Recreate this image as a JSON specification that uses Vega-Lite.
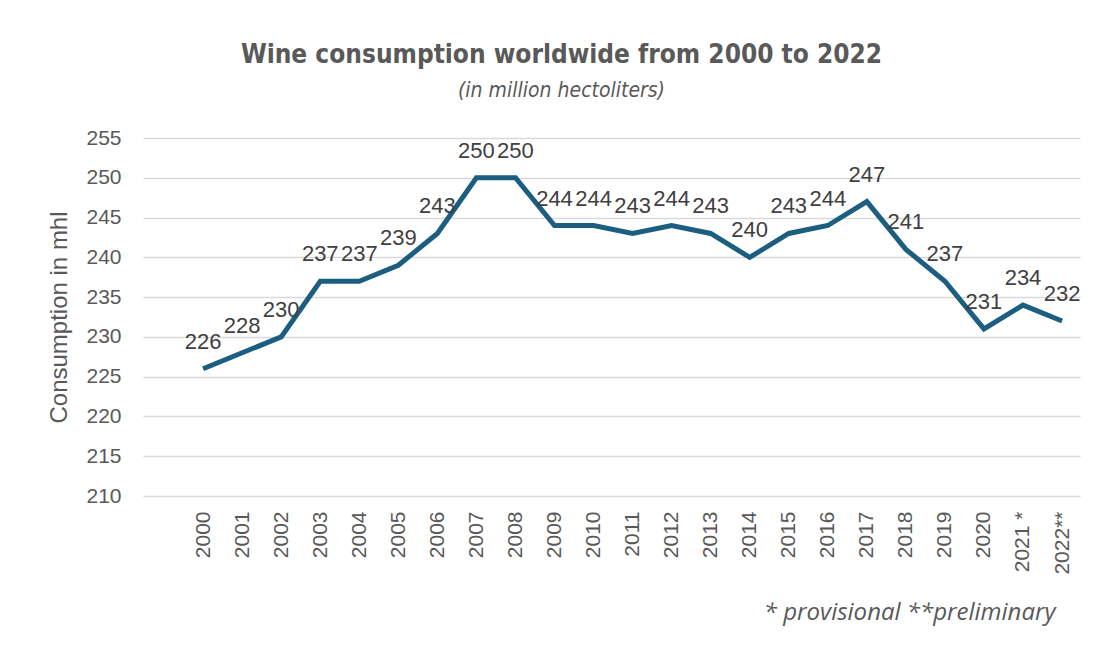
{
  "$schema": "https://vega.github.io/schema/vega-lite/v6.json",
  "width": 937,
  "height": 358,
  "autosize": {"type": "none"},
  "padding": {"left": 143, "top": 138, "right": 22, "bottom": 158},
  "background": "white",
  "title": {
    "text": "Wine consumption worldwide from 2000  to 2022",
    "subtitle": "(in million hectoliters)",
    "font": "DejaVu Sans Condensed, DejaVu Sans, sans-serif",
    "fontSize": 26,
    "fontWeight": "bold",
    "color": "#595959",
    "subtitleFont": "DejaVu Sans Condensed, DejaVu Sans, sans-serif",
    "subtitleFontSize": 21,
    "subtitleFontStyle": "italic",
    "subtitleColor": "#595959",
    "subtitlePadding": 12,
    "anchor": "middle",
    "dx": -50,
    "offset": 26
  },
  "config": {
    "view": {"stroke": null},
    "font": "Liberation Sans"
  },
  "data": {
    "values": [
      {"year": "2000", "value": 226},
      {"year": "2001", "value": 228},
      {"year": "2002", "value": 230},
      {"year": "2003", "value": 237},
      {"year": "2004", "value": 237},
      {"year": "2005", "value": 239},
      {"year": "2006", "value": 243},
      {"year": "2007", "value": 250},
      {"year": "2008", "value": 250},
      {"year": "2009", "value": 244},
      {"year": "2010", "value": 244},
      {"year": "2011", "value": 243},
      {"year": "2012", "value": 244},
      {"year": "2013", "value": 243},
      {"year": "2014", "value": 240},
      {"year": "2015", "value": 243},
      {"year": "2016", "value": 244},
      {"year": "2017", "value": 247},
      {"year": "2018", "value": 241},
      {"year": "2019", "value": 237},
      {"year": "2020", "value": 231},
      {"year": "2021 *", "value": 234},
      {"year": "2022**", "value": 232}
    ]
  },
  "encoding": {
    "x": {
      "field": "year",
      "type": "ordinal",
      "sort": null,
      "scale": {"type": "point", "padding": 1, "align": 0.77},
      "axis": {
        "title": "* provisional **preliminary",
        "titleFont": "Open Sans",
        "titleFontSize": 24,
        "titleFontStyle": "italic",
        "titleFontWeight": "normal",
        "titleColor": "#595959",
        "titleAnchor": "end",
        "titleX": 912,
        "titleAlign": "right",
        "titlePadding": 26,
        "labelAngle": -90,
        "labelFontSize": 21,
        "labelColor": "#595959",
        "labelPadding": 15,
        "ticks": false,
        "domain": false,
        "grid": false
      }
    },
    "y": {
      "field": "value",
      "type": "quantitative",
      "scale": {"domain": [210, 255], "nice": false, "zero": false},
      "axis": {
        "title": "Consumption in mhl",
        "titleFontSize": 24,
        "titleFontWeight": "normal",
        "titleColor": "#595959",
        "titlePadding": 14,
        "values": [210, 215, 220, 225, 230, 235, 240, 245, 250, 255],
        "labelFontSize": 21,
        "labelColor": "#595959",
        "labelPadding": 22,
        "ticks": false,
        "domain": false,
        "grid": true,
        "gridColor": "#d9d9d9",
        "gridWidth": 1.5
      }
    }
  },
  "layer": [
    {
      "mark": {"type": "line", "color": "#1b5e7f", "strokeWidth": 5, "strokeJoin": "miter"}
    },
    {
      "mark": {"type": "text", "baseline": "bottom", "dy": -15, "fontSize": 22, "color": "#404040"},
      "encoding": {"text": {"field": "value", "type": "quantitative"}}
    }
  ]
}
